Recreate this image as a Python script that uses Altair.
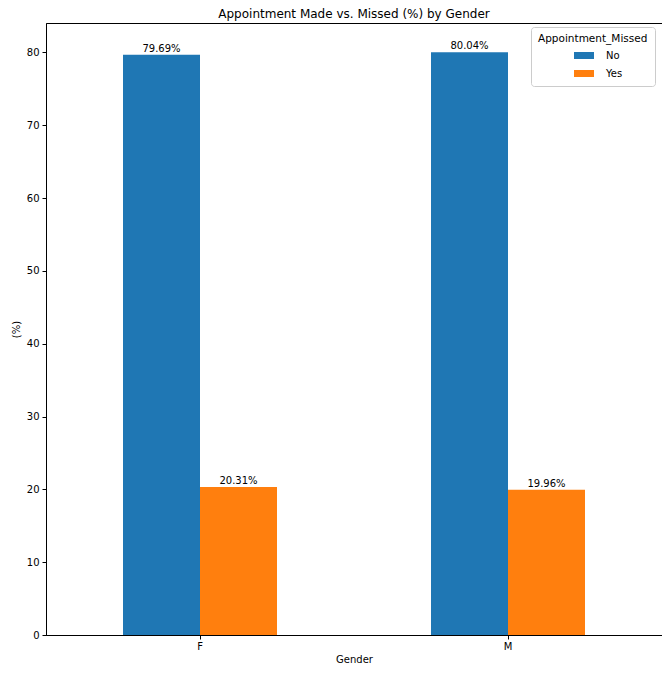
import altair as alt
import pandas as pd

genders = ["F", "F", "M", "M"]
missed = ["No", "Yes", "No", "Yes"]
pct = [79.69, 20.31, 80.04, 19.96]

df = pd.DataFrame({"Gender": genders, "Appointment_Missed": missed, "pct": pct})
df["label"] = df["pct"].map(lambda v: f"{v:.2f}%")

FONT = "DejaVu Sans"
W, H = 616, 612

x = alt.X("Gender:N", title="Gender",
          scale=alt.Scale(paddingInner=0.5, paddingOuter=0.25),
          axis=alt.Axis(labelAngle=0, labelFontSize=10, titleFontSize=10,
                        labelFont=FONT, titleFont=FONT, labelColor="black",
                        titleColor="black", tickColor="black", domainColor="black",
                        tickSize=4, labelPadding=2, titlePadding=3,
                        titleFontWeight="normal", domain=True, grid=False))
xoff = alt.XOffset("Appointment_Missed:N", scale=alt.Scale(paddingInner=0, paddingOuter=0))
y = alt.Y("pct:Q", title="(%)",
          scale=alt.Scale(domain=[0, 84.04], nice=False, zero=True),
          axis=alt.Axis(values=[0, 10, 20, 30, 40, 50, 60, 70, 80], labelFontSize=10,
                        titleFontSize=10, labelFont=FONT, titleFont=FONT,
                        labelColor="black", titleColor="black", tickColor="black",
                        domainColor="black", tickSize=4, labelPadding=3,
                        titlePadding=5, titleFontWeight="normal", grid=False))
color = alt.Color("Appointment_Missed:N",
                  scale=alt.Scale(domain=["No", "Yes"], range=["#1f77b4", "#ff7f0e"]),
                  legend=alt.Legend(title="Appointment_Missed", orient="none",
                                    legendX=485, legendY=4,
                                    strokeColor="#cccccc", fillColor="white",
                                    padding=7, cornerRadius=3,
                                    symbolType="M-1,-0.35L1,-0.35L1,0.35L-1,0.35Z",
                                    symbolSize=400, symbolStrokeWidth=0,
                                    symbolOffset=36,
                                    titleFont=FONT, labelFont=FONT, titleFontSize=10.5,
                                    labelFontSize=10, titleFontWeight="normal",
                                    titleColor="black", labelColor="black",
                                    titlePadding=1,
                                    rowPadding=3, labelOffset=12))

bars = alt.Chart(df).mark_bar(size=77).encode(x=x, xOffset=xoff, y=y, color=color)
text = alt.Chart(df).mark_text(baseline="bottom", dy=-1, fontSize=10, font=FONT,
                                color="black").encode(x=x, xOffset=xoff, y=y, text="label:N")

chart = alt.layer(bars, text).properties(
    width=W, height=H,
    title=alt.TitleParams("Appointment Made vs. Missed (%) by Gender", fontSize=12,
                          font=FONT, fontWeight="normal", color="black", offset=2),
    autosize=alt.AutoSizeParams(type="none"),
    padding={"left": 38, "top": 15, "right": 0, "bottom": 30},
).configure_view(stroke="black", strokeWidth=1)

chart.save("out.html", embed_options={"renderer": "svg", "actions": False})
